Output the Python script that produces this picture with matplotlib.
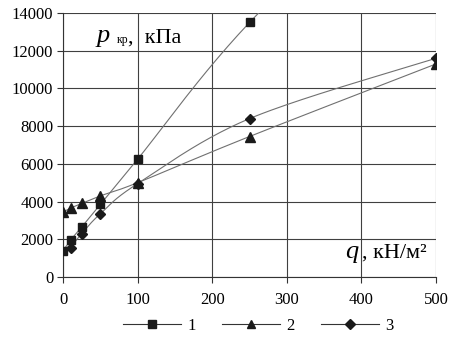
import numpy as np
import matplotlib
matplotlib.use("Agg")
import matplotlib.pyplot as plt
from matplotlib.lines import Line2D

plt.rcParams['font.family'] = ['Liberation Serif', 'DejaVu Serif']

q1 = [0, 10, 25, 50, 100, 250, 500]
p1 = [1400, 1950, 2650, 3850, 6250, 13500, 23000]
q2 = [0, 10, 25, 50, 100, 250, 500]
p2 = [3450, 3650, 3900, 4300, 5000, 7450, 11300]
q3 = [10, 25, 50, 100, 250, 500]
p3 = [1550, 2300, 3350, 4950, 8400, 11600]
labels = ["1", "2", "3"]
markers = ["s", "^", "D"]
msizes = [6, 7, 5.5]


def smooth(x, y, n=40):
    x = np.asarray(x, float)
    y = np.asarray(y, float)
    P = np.column_stack([x, y])
    out = []
    for i in range(len(P) - 1):
        p0 = P[i - 1] if i > 0 else P[i]
        p1_ = P[i]
        p2_ = P[i + 1]
        p3_ = P[i + 2] if i + 2 < len(P) else P[i + 1]
        c1 = p1_ + (p2_ - p0) / 6
        c2 = p2_ - (p3_ - p1_) / 6
        t = np.linspace(0, 1, n)[:, None]
        b = ((1 - t) ** 3) * p1_ + 3 * ((1 - t) ** 2) * t * c1 + 3 * (1 - t) * t ** 2 * c2 + t ** 3 * p2_
        out.append(b)
    B = np.vstack(out)
    return B[:, 0], B[:, 1]


fig = plt.figure(figsize=(4.57, 3.44), dpi=100)
ax = fig.add_axes([0.138, 0.195, 0.816, 0.767])

for q, p in [(q1, p1), (q2, p2), (q3, p3)]:
    sx, sy = smooth(q, p)
    ax.plot(sx, sy, color='#707070', lw=0.8, zorder=2)

for q, p, m, ms in zip([q1, q2, q3], [p1, p2, p3], markers, msizes):
    ax.plot(q, p, linestyle='none', marker=m, ms=ms, color='#1a1a1a', zorder=3)

ax.set_xlim(0, 500)
ax.set_ylim(0, 14000)
ax.set_xticks(range(0, 501, 100))
ax.set_yticks(range(0, 14001, 2000))
ax.grid(True, color='#404040', lw=0.8)
ax.set_axisbelow(True)
for s in ['top', 'right']:
    ax.spines[s].set_visible(False)
for s in ['left', 'bottom']:
    ax.spines[s].set_color('#333333')
    ax.spines[s].set_linewidth(0.8)
ax.tick_params(axis='both', labelsize=12, length=4, width=0.8, color='#333333', pad=3)
ax.tick_params(axis='x', pad=7)

ax.text(0.091, 0.89, 'p', transform=ax.transAxes, fontsize=19, va='baseline', ha='left', style='italic')
ax.text(0.145, 0.885, 'кр', transform=ax.transAxes, fontsize=8.5, va='baseline', ha='left')
ax.text(0.175, 0.89, ',  кПа', transform=ax.transAxes, fontsize=16, va='baseline', ha='left')

ax.text(0.756, 0.072, 'q', transform=ax.transAxes, fontsize=19, va='baseline', ha='left', style='italic')
ax.text(0.802, 0.072, ', кН/м²', transform=ax.transAxes, fontsize=16, va='baseline', ha='left')

handles = [Line2D([0], [0], color='#333333', lw=0.8, marker=m, ms=ms * 0.85, markerfacecolor='#1a1a1a',
                  markeredgecolor='#1a1a1a') for m, ms in zip(markers, msizes)]
fig.legend(handles, labels, loc='center', bbox_to_anchor=(0.565, 0.052), ncol=3, frameon=False,
           fontsize=12, handlelength=3.5, columnspacing=1.6, handletextpad=0.35)

fig.savefig('out.png', dpi=100)
